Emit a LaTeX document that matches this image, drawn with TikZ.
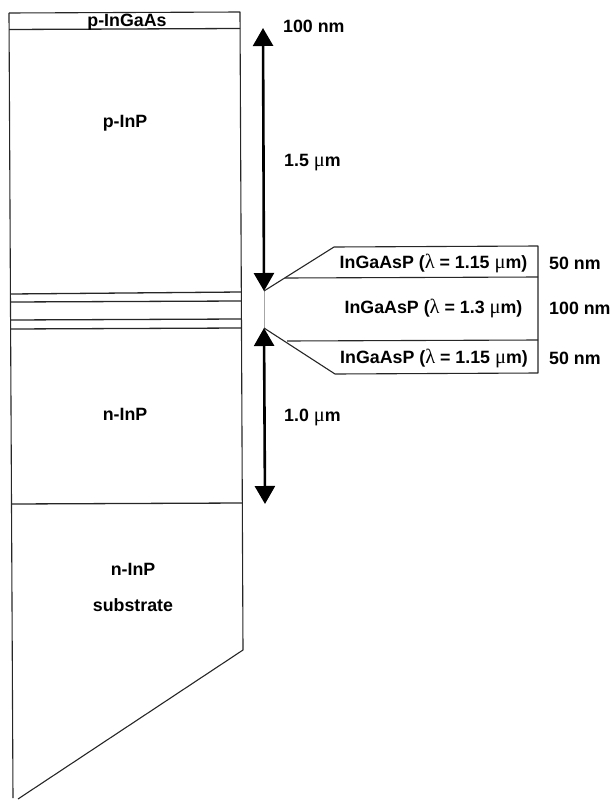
\documentclass[tikz,border=0pt]{standalone}
\usepackage{fontspec}
\setmainfont{Liberation Sans}
\newfontfamily\greekfont[Scale=1.15]{Liberation Serif}
\newcommand{\lam}{{\normalfont\greekfont λ}}
\newcommand{\mum}{{\normalfont\greekfont μ}}
\usetikzlibrary{arrows.meta}

\begin{document}
\begin{tikzpicture}[
  x=1pt, y=-1pt,
  edge/.style   = {line width=1.1pt, black!85, line join=round},
  layer/.style  = {line width=1.3pt, black!85},
  thinl/.style  = {line width=0.8pt, gray!70},
  dimarr/.style = {{Triangle[length=18pt,width=20pt]}-{Triangle[length=18pt,width=20pt]},
                   line width=2.6pt, black},
  lbl/.style    = {inner sep=0pt, yshift=-1pt, font=\fontsize{17.8}{20}\selectfont\bfseries},
]
\useasboundingbox (0,0) rectangle (611,800);

%% Outline of the wafer
\coordinate (tl) at (9,13);
\coordinate (tr) at (240,12);
\coordinate (br) at (243,650);
\coordinate (bt) at (18,799);
\coordinate (bl) at (13,798);
\draw[edge] (tl) -- (tr) -- (br) -- (bt);
\draw[edge] (tl) -- (bl);

%% Layer lines
\draw[layer] (9.2,29.5)  coordinate (a1) -- (240.2,28.5) coordinate (a2);
\draw[layer] (10.5,294)  coordinate (b1) -- (241,292)    coordinate (b2);
\draw[layer] (10.5,302)  coordinate (c1) -- (241,301)    coordinate (c2);
\draw[layer] (10.5,320)  coordinate (d1) -- (241,319)    coordinate (d2);
\draw[layer] (10.5,329)  coordinate (e1) -- (241,328)    coordinate (e2);
\draw[layer] (11.5,504)  coordinate (f1) -- (242,503)    coordinate (f2);

%% Layer names
\node[lbl] (cap)   at (127,21)  {p-InGaAs};
\node[lbl] (pinp)  at (125,122) {p-InP};
\node[lbl] (ninp)  at (125,413) {n-InP};
\node[lbl] (subs)  at (133,568) {n-InP};
\node[lbl] (subt)  at (133,604) {substrate};

%% Thickness arrows
\coordinate (u1) at (263,28);
\coordinate (u2) at (264,291);
\coordinate (l1) at (264,328);
\coordinate (l2) at (265,504);
\draw[dimarr] (u1) -- (u2);
\draw[dimarr] (l1) -- (l2);
\draw[thinl] (u2) -- (l1);

\node[lbl, anchor=west] (t100) at (283,25)  {100 nm};
\node[lbl, anchor=west] (t15)  at (284,162) {1.5 \mum m};
\node[lbl, anchor=west] (t10)  at (284,416) {1.0 \mum m};

%% Blow-up of the active region
\coordinate (p1) at (334,247);
\coordinate (p2) at (538,246);
\coordinate (p3) at (538,373);
\coordinate (p4) at (335,374);
\coordinate (q1) at (285,278);
\coordinate (q2) at (538,277);
\coordinate (q3) at (287,341);
\coordinate (q4) at (538,340);
\draw[edge] (u2) -- (p1) -- (p2) -- (p3) -- (p4) -- (l1);
\draw[edge] (q1) -- (q2);
\draw[edge] (q3) -- (q4);

\node[lbl] (top)  at (433.5,262) {InGaAsP (\lam\ = 1.15 \mum m)};
\node[lbl] (mid)  at (433.5,307) {InGaAsP (\lam\ = 1.3 \mum m)};
\node[lbl] (bot)  at (434,357)   {InGaAsP (\lam\ = 1.15 \mum m)};

\node[lbl, anchor=west] (w1) at (549,262) {50 nm};
\node[lbl, anchor=west] (w2) at (549,307) {100 nm};
\node[lbl, anchor=west] (w3) at (549,357) {50 nm};

\end{tikzpicture}
\end{document}
